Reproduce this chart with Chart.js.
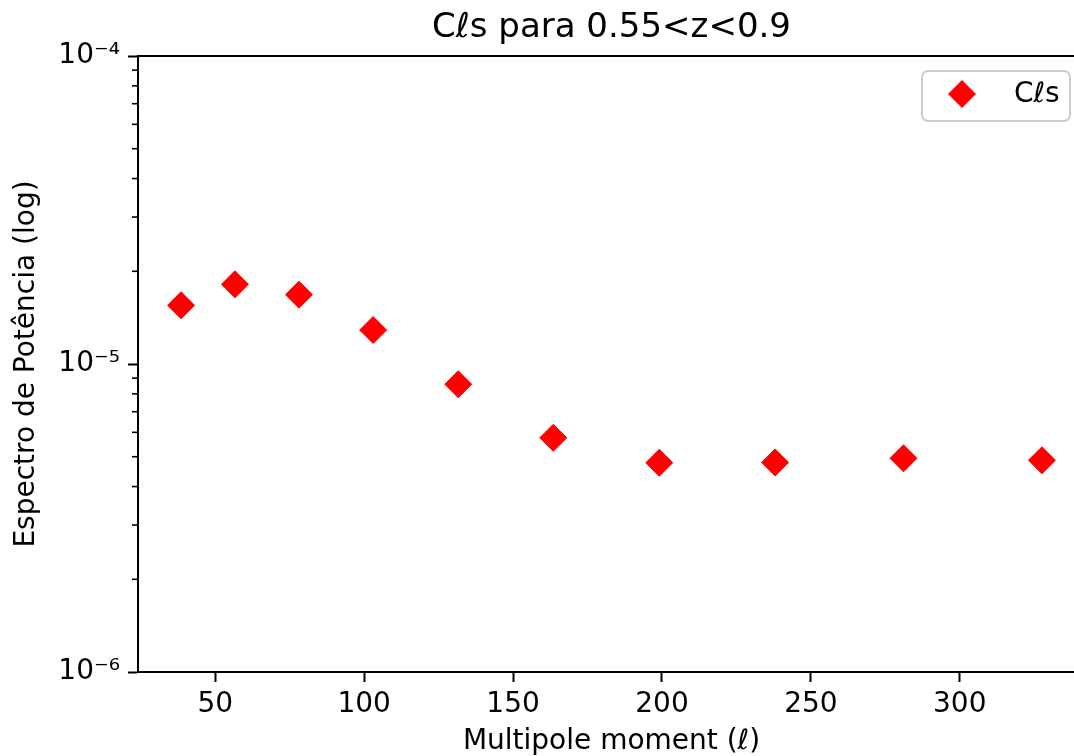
<!DOCTYPE html>
<html><head><meta charset="utf-8">
<script src="https://cdn.jsdelivr.net/npm/chart.js@4/dist/chart.umd.min.js"></script>
<style>
html,body{margin:0;padding:0;overflow:hidden;background:#fff;width:1074px;height:756px}
#wrap{width:1074px;height:756px;overflow:hidden}
canvas{display:block}
</style></head>
<body><div id="wrap"><canvas id="c" width="1100" height="756"></canvas></div>
<script>
// ---- data ----
const multipoles = [38.5, 56.6, 78.1, 103.0, 131.6, 163.5, 199.1, 238.0, 281.1, 327.6];
const cls = [1.551e-5, 1.815e-5, 1.679e-5, 1.289e-5, 8.59e-6, 5.76e-6, 4.78e-6, 4.79e-6, 4.94e-6, 4.87e-6];
const xTicks = [50, 100, 150, 200, 250, 300];
const yMajorTicks = [1e-6, 1e-5, 1e-4];
const yMajorLabels = ['10\u207B\u2076', '10\u207B\u2075', '10\u207B\u2074'];
const yMinorTicks = [2e-6,3e-6,4e-6,5e-6,6e-6,7e-6,8e-6,9e-6,2e-5,3e-5,4e-5,5e-5,6e-5,7e-5,8e-5,9e-5];
const xMin = 24.04, xMax = 342.06;
const yMin = 1e-6, yMax = 1e-4;
const seriesLabel = 'C\u2113s';
const titleText = 'C\u2113s para 0.55<z<0.9';
const xTitle = 'Multipole moment (\u2113)';
const yTitle = 'Espectro de Potência (log)';

const FAM = "'DejaVu Sans', sans-serif";
Chart.defaults.color = '#000';
Chart.defaults.font.family = FAM;

const extras = {
  id: 'extras',
  afterDraw(chart) {
    const {ctx, chartArea: a, scales: {y}} = chart;
    ctx.save();
    ctx.strokeStyle = '#000';
    ctx.lineWidth = 1.6;
    yMinorTicks.forEach(v => {
      const py = y.getPixelForValue(v);
      ctx.beginPath(); ctx.moveTo(a.left - 6, py); ctx.lineTo(a.left, py); ctx.stroke();
    });
    ctx.lineWidth = 2;
    ctx.beginPath();
    ctx.moveTo(a.left - 1, a.top); ctx.lineTo(a.right, a.top); ctx.lineTo(a.right, a.bottom);
    ctx.stroke();
    // legend (upper right, inside axes)
    const w = 148, h = 50;
    const lx = a.right - 15 - w, ly = a.top + 15;
    ctx.beginPath();
    if (ctx.roundRect) ctx.roundRect(lx, ly, w, h, 6); else ctx.rect(lx, ly, w, h);
    ctx.fillStyle = 'rgba(255,255,255,0.8)';
    ctx.fill();
    ctx.strokeStyle = '#cccccc';
    ctx.lineWidth = 2;
    ctx.stroke();
    const ds = chart.data.datasets[0];
    ctx.fillStyle = ds.backgroundColor;
    ctx.strokeStyle = ds.borderColor;
    ctx.lineWidth = ds.borderWidth;
    Chart.helpers.drawPoint(ctx, {pointStyle: ds.pointStyle, radius: ds.pointRadius, borderWidth: ds.borderWidth, rotation: 0}, lx + 40, ly + 23);
    ctx.fillStyle = '#000';
    ctx.font = "28px " + FAM;
    ctx.textAlign = 'left';
    ctx.textBaseline = 'middle';
    ctx.fillText(ds.label, lx + 92, ly + 24);
    ctx.restore();
  }
};

new Chart(document.getElementById('c'), {
  type: 'scatter',
  data: {
    datasets: [{
      label: seriesLabel,
      data: multipoles.map((x, i) => ({x: x, y: cls[i]})),
      pointStyle: 'rectRot',
      pointRadius: 13.5,
      pointHoverRadius: 13.5,
      backgroundColor: '#ff0000',
      borderColor: '#ff0000',
      borderWidth: 1
    }]
  },
  options: {
    responsive: false,
    animation: false,
    devicePixelRatio: 1,
    layout: {autoPadding: false, padding: {left: 0, right: 15, top: 0, bottom: 0}},
    plugins: {
      legend: {display: false},
      tooltip: {enabled: false},
      title: {
        display: true, text: titleText, fullSize: false, color: '#000',
        font: {family: FAM, size: 34, weight: 'normal', lineHeight: 1.2},
        padding: {top: 8, bottom: 7.2}
      }
    },
    scales: {
      x: {
        type: 'linear', position: 'bottom', min: xMin, max: xMax,
        afterBuildTicks: s => { s.ticks = xTicks.map(v => ({value: v})); },
        afterFit: s => { s.height = 84; s.paddingLeft = 0; s.paddingRight = 0; },
        ticks: {autoSkip: false, maxRotation: 0, padding: 6, color: '#000',
          font: {family: FAM, size: 28}, callback: (v) => String(v)},
        grid: {drawOnChartArea: false, drawTicks: true, tickLength: 10, tickWidth: 2, tickColor: '#000'},
        border: {display: true, color: '#000', width: 2},
        title: {display: true, text: xTitle, color: '#000',
          font: {family: FAM, size: 28, lineHeight: 1}, padding: {top: 0, bottom: 0}}
      },
      y: {
        type: 'logarithmic', position: 'left', min: yMin, max: yMax,
        afterBuildTicks: s => { s.ticks = yMajorTicks.map(v => ({value: v, major: true})); },
        afterFit: s => { s.width = 138; s.paddingTop = 0; s.paddingBottom = 0; },
        ticks: {autoSkip: false, padding: 8, color: '#000',
          font: {family: FAM, size: 28}, callback: (v, i) => yMajorLabels[i]},
        grid: {drawOnChartArea: false, drawTicks: true, tickLength: 10, tickWidth: 2, tickColor: '#000'},
        border: {display: true, color: '#000', width: 2},
        title: {display: true, text: yTitle, color: '#000',
          font: {family: FAM, size: 28, lineHeight: 1}, padding: {top: 13, bottom: 0}}
      }
    }
  },
  plugins: [extras]
});
</script>
</body></html>
